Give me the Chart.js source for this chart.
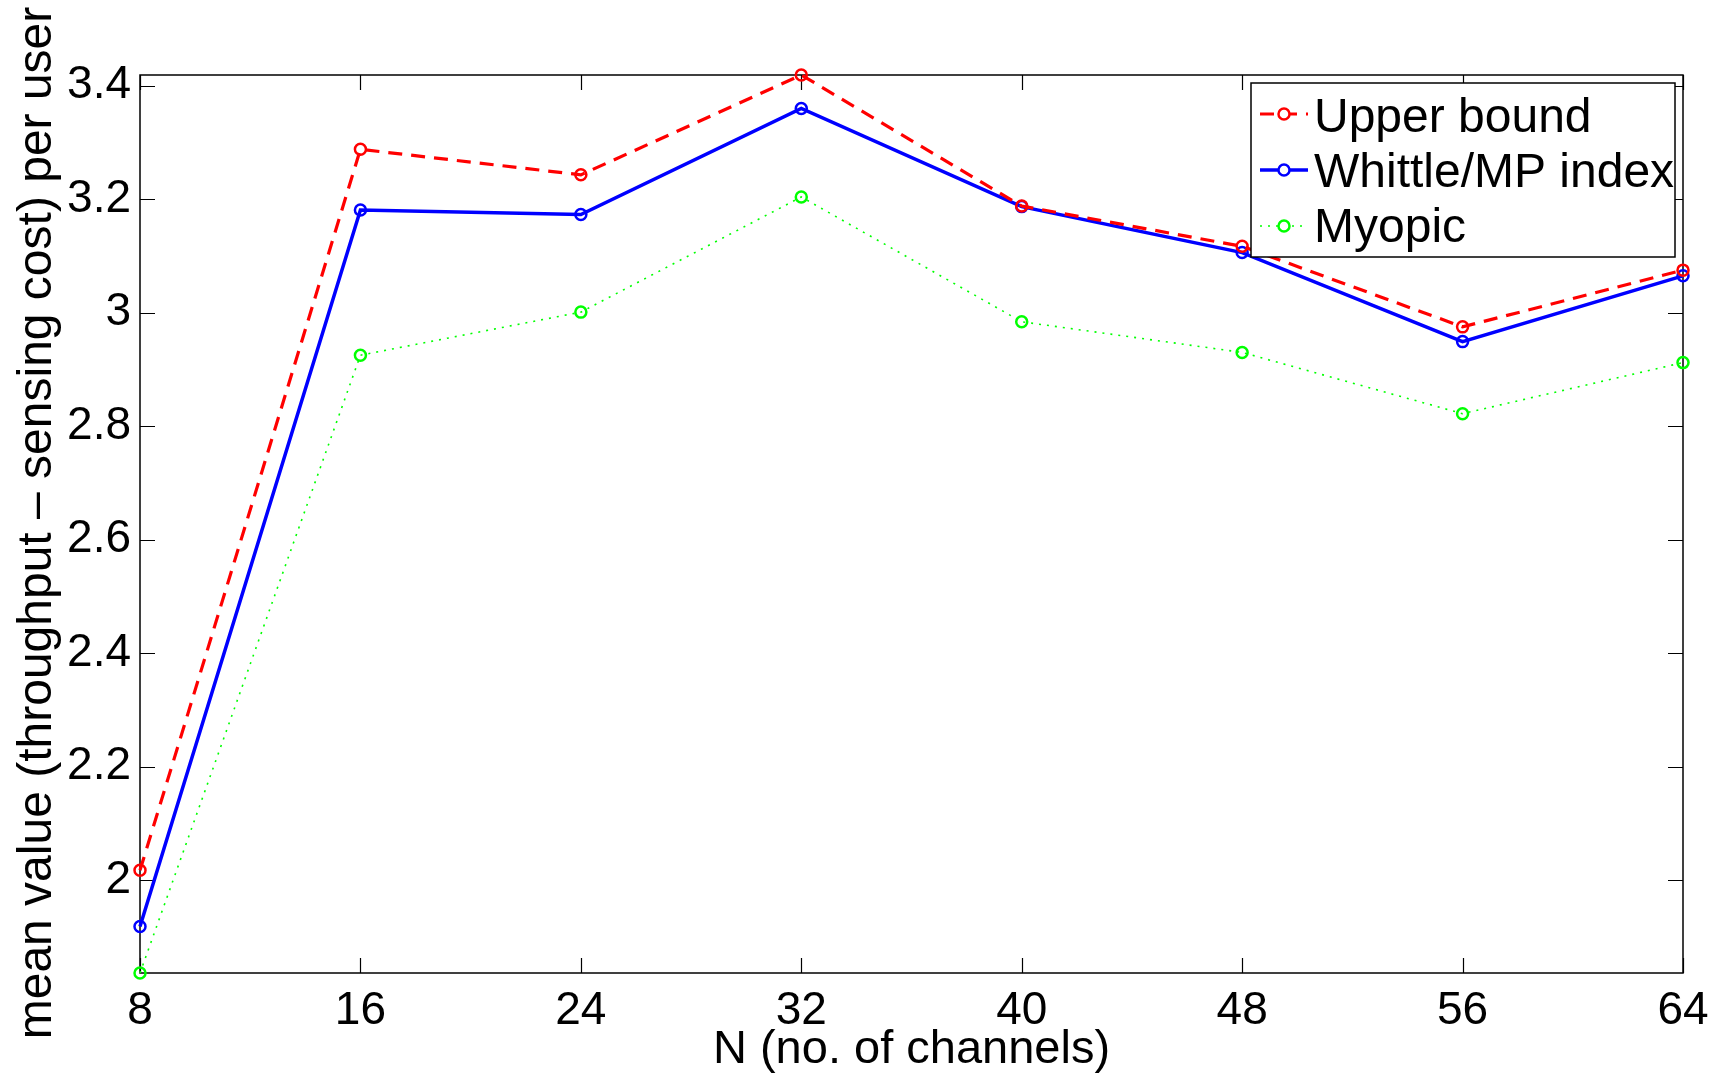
<!DOCTYPE html>
<html>
<head>
<meta charset="utf-8">
<script src="https://cdn.jsdelivr.net/npm/chart.js@4/dist/chart.umd.min.js"></script>
<style>
  html, body { margin: 0; padding: 0; background: #fff; }
  #wrap { width: 1728px; height: 1074px; }
</style>
</head>
<body>
<div id="wrap"><canvas id="c" width="1728" height="1074"></canvas></div>
<script>
const channels = [8, 16, 24, 32, 40, 48, 56, 64];
const upperBound = [2.017, 3.288, 3.243, 3.419, 3.188, 3.117, 2.975, 3.075];
const whittleIndex = [1.918, 3.181, 3.173, 3.360, 3.187, 3.106, 2.949, 3.065];
const myopic = [1.836, 2.925, 3.001, 3.204, 2.984, 2.930, 2.822, 2.912];
const yTicks = [2.0, 2.2, 2.4, 2.6, 2.8, 3.0, 3.2, 3.4];
const xTicks = channels;
const seriesNames = ['Upper bound', 'Whittle/MP index', 'Myopic'];
const xTitle = 'N (no. of channels)';
const yTitle = 'mean value (throughput \u2013 sensing cost) per user';
const yMin = 1.836, yMax = 3.419;

const FONT = '"Liberation Sans", Arial, Helvetica, sans-serif';

function pts(vals) { return channels.map((c, i) => ({ x: c, y: vals[i] })); }

const boxAndTicks = {
  id: 'boxAndTicks',
  beforeDatasetsDraw(chart) {
    const { ctx, chartArea: a, scales: { x, y } } = chart;
    const tl = 15;
    ctx.save();
    ctx.strokeStyle = '#000';
    ctx.lineWidth = 1.5;
    ctx.strokeRect(a.left, a.top, a.right - a.left, a.bottom - a.top);
    ctx.lineWidth = 1.2;
    ctx.beginPath();
    xTicks.forEach(v => {
      const px = Math.round(x.getPixelForValue(v)) + 0.5;
      ctx.moveTo(px, a.bottom); ctx.lineTo(px, a.bottom - tl);
      ctx.moveTo(px, a.top); ctx.lineTo(px, a.top + tl);
    });
    yTicks.forEach(v => {
      const py = Math.round(y.getPixelForValue(v)) + 0.5;
      ctx.moveTo(a.left, py); ctx.lineTo(a.left + tl, py);
      ctx.moveTo(a.right, py); ctx.lineTo(a.right - tl, py);
    });
    ctx.stroke();
    ctx.restore();
  },
  afterDraw(chart) {
    const { ctx, chartArea: a } = chart;
    ctx.save();
    ctx.translate(51, (a.top + a.bottom) / 2 - 1);
    ctx.rotate(-Math.PI / 2);
    ctx.font = '48px ' + FONT;
    ctx.fillStyle = '#000';
    ctx.textAlign = 'center';
    ctx.textBaseline = 'alphabetic';
    ctx.fillText(yTitle, 0, 0);
    ctx.restore();

    const bx = 1251, by = 83, bw = 424, bh = 174;
    ctx.save();
    ctx.fillStyle = '#fff';
    ctx.fillRect(bx, by, bw, bh);
    ctx.strokeStyle = '#000';
    ctx.lineWidth = 1.5;
    ctx.strokeRect(bx, by, bw, bh);
    const rows = [114, 170, 226];
    const baselines = [131.5, 187, 242];
    chart.data.datasets.forEach((ds, i) => {
      const yy = rows[i];
      ctx.strokeStyle = ds.borderColor;
      ctx.lineWidth = ds.borderWidth;
      ctx.setLineDash(ds.borderDash || []);
      ctx.beginPath();
      ctx.moveTo(1260, yy); ctx.lineTo(1308, yy);
      ctx.stroke();
      ctx.setLineDash([]);
      ctx.lineWidth = ds.pointBorderWidth;
      ctx.beginPath();
      ctx.arc(1284, yy, ds.pointRadius, 0, Math.PI * 2);
      ctx.fillStyle = '#fff';
      ctx.fill();
      ctx.stroke();
      ctx.fillStyle = '#000';
      ctx.font = '48px ' + FONT;
      ctx.textAlign = 'left';
      ctx.textBaseline = 'alphabetic';
      ctx.fillText(ds.label, 1314, baselines[i]);
    });
    ctx.restore();
  }
};

new Chart(document.getElementById('c'), {
  type: 'line',
  data: {
    datasets: [
      { label: seriesNames[0], data: pts(upperBound), borderColor: '#ff0000', borderWidth: 3.2, borderDash: [14, 9],
        pointRadius: 5.5, pointBorderWidth: 2.5, pointBackgroundColor: 'rgba(0,0,0,0)', pointBorderColor: '#ff0000', clip: false, tension: 0 },
      { label: seriesNames[1], data: pts(whittleIndex), borderColor: '#0000ff', borderWidth: 3.5,
        pointRadius: 5.5, pointBorderWidth: 2.5, pointBackgroundColor: 'rgba(0,0,0,0)', pointBorderColor: '#0000ff', clip: false, tension: 0 },
      { label: seriesNames[2], data: pts(myopic), borderColor: '#00ff00', borderWidth: 1.6, borderDash: [2, 6],
        pointRadius: 5.5, pointBorderWidth: 2.5, pointBackgroundColor: 'rgba(0,0,0,0)', pointBorderColor: '#00ff00', clip: false, tension: 0 }
    ]
  },
  options: {
    responsive: false,
    animation: false,
    devicePixelRatio: 1,
    layout: { padding: { top: 75, right: 45, left: 0, bottom: 0 } },
    plugins: { legend: { display: false }, tooltip: { enabled: false } },
    scales: {
      x: {
        type: 'linear', min: 8, max: 64,
        afterBuildTicks: s => { s.ticks = xTicks.map(v => ({ value: v })); },
        afterFit: s => { s.height = 101; },
        grid: { display: false, drawTicks: false },
        border: { display: false },
        ticks: { color: '#000', font: { size: 46, family: FONT }, padding: 11, maxRotation: 0, autoSkip: false },
        title: { display: true, text: xTitle, color: '#000', font: { size: 47, family: FONT, lineHeight: 1.0 }, padding: 0 }
      },
      y: {
        type: 'linear', min: yMin, max: yMax,
        afterBuildTicks: s => { s.ticks = yTicks.map(v => ({ value: v })); },
        afterFit: s => { s.width = 140; },
        grid: { display: false, drawTicks: false },
        border: { display: false },
        ticks: { color: '#000', font: { size: 46, family: FONT }, padding: 9,
          callback: v => String(+Number(v).toFixed(1)) },
        title: { display: false }
      }
    }
  },
  plugins: [boxAndTicks]
});
</script>
</body>
</html>
